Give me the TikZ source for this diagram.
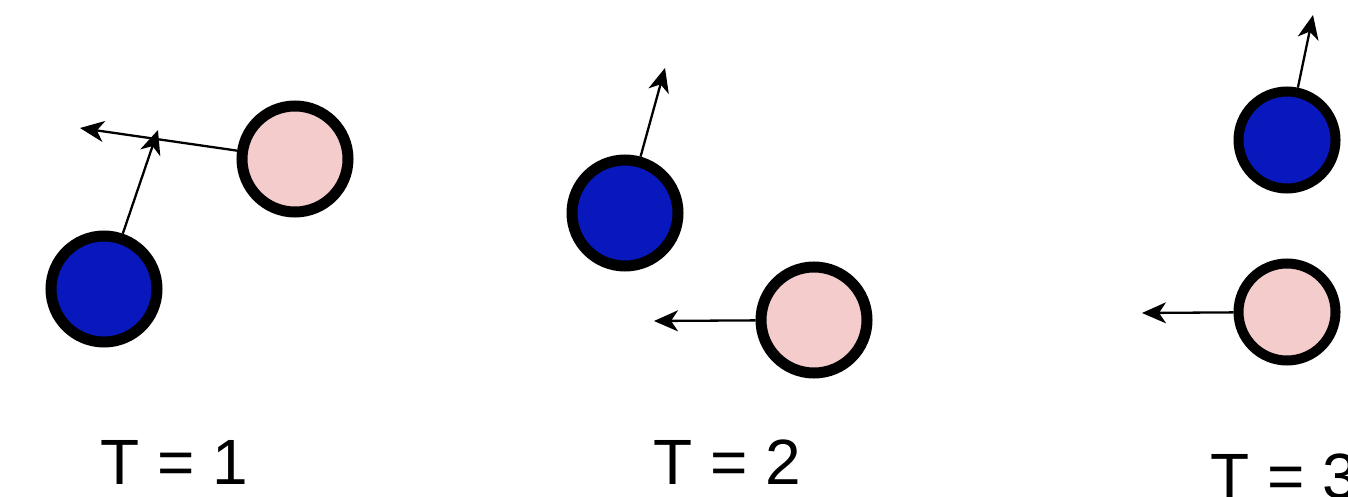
\documentclass[tikz,border=0pt]{standalone}
\usepackage{fontspec}
\setmainfont{Liberation Sans}
\usetikzlibrary{arrows.meta}
\definecolor{ballblue}{RGB}{8,24,188}
\definecolor{ballpink}{RGB}{244,204,204}
\begin{document}
\begin{tikzpicture}[x=0.5pt,y=-0.5pt,
  ball/.style={circle,draw=black,line width=5.5pt,inner sep=0pt,minimum size=53pt},
  smallball/.style={ball,minimum size=48.5pt,line width=5pt},
  blueball/.style={fill=ballblue},
  pinkball/.style={fill=ballpink},
  vel/.style={draw=black,line width=1.15pt,-{Stealth[length=12pt,width=10.5pt,inset=3.5pt]}},
  lbl/.style={anchor=base west,inner sep=0pt,font=\fontsize{32}{38}\selectfont}]
\useasboundingbox (0,0) rectangle (1348,497);
\clip (0,0) rectangle (1348,497);
% T = 1
\node[ball,blueball] (b1) at (104,289) {};
\node[ball,pinkball] (p1) at (295,159) {};
\coordinate (tb1) at (158,130);
\coordinate (tp1) at (80,128);
\draw[vel] (p1) -- (tp1);
\draw[vel] (b1) -- (tb1);
\node[lbl] (l1) at (100,484) {T = 1};
% T = 2
\node[ball,blueball] (b2) at (625,213) {};
\node[ball,pinkball] (p2) at (814,320) {};
\coordinate (tb2) at (665,68);
\coordinate (tp2) at (654,321);
\draw[vel] (b2) -- (tb2);
\draw[vel] (p2) -- (tp2);
\node[lbl] (l2) at (653,484) {T = 2};
% T = 3
\node[smallball,blueball] (b3) at (1287,140) {};
\node[smallball,pinkball] (p3) at (1287,312) {};
\coordinate (tb3) at (1313,15);
\coordinate (tp3) at (1142,313);
\draw[vel] (b3) -- (tb3);
\draw[vel] (p3) -- (tp3);
\node[lbl] (l3) at (1210,498) {T = 3};
\end{tikzpicture}
\end{document}
